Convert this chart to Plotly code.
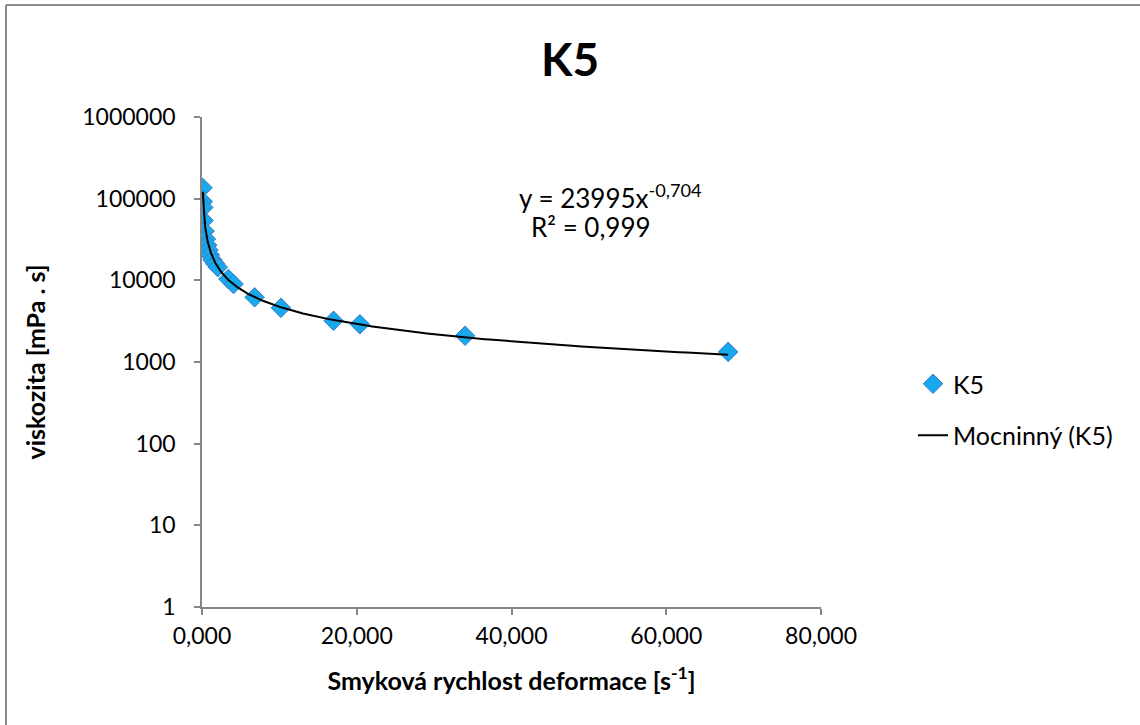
import numpy as np
import plotly.graph_objects as go

# Shear rate [1/s] and measured viscosity [mPa.s] for sample K5
shear_rate = [0.068, 0.102, 0.17, 0.204, 0.34, 0.51, 0.68, 0.85, 1.02, 1.36,
              1.7, 2.04, 3.4, 4.08, 6.8, 10.2, 17, 20.4, 34, 68]
viscosity = [136000, 92000, 78000, 54000, 40000, 32000, 27000, 23500, 20500, 17800,
             16000, 14500, 10400, 9000, 6200, 4600, 3200, 2900, 2100, 1330]

# Power-law trend  y = a * x^b
fit_a = 23995
fit_b = -0.704
fit_r2 = "0,999"

x_ticks = [0, 20, 40, 60, 80]
x_tick_text = ["0,000", "20,000", "40,000", "60,000", "80,000"]
y_ticks = [1, 10, 100, 1000, 10000, 100000, 1000000]
y_tick_text = ["1", "10", "100", "1000", "10000", "100000", "1000000"]

FONT = "Lato"
AXIS_GREY = "#868686"

trend_x = np.geomspace(0.1, max(shear_rate), 400)
trend_y = fit_a * trend_x ** fit_b

fig = go.Figure()
fig.add_trace(go.Scatter(
    x=shear_rate, y=viscosity, mode="markers", name="K5",
    legendgroup="a",
    marker=dict(symbol="diamond", size=15, color="#17A9EC",
                line=dict(color="#3F7CC4", width=1)),
))
fig.add_trace(go.Scatter(
    x=trend_x, y=trend_y, mode="lines", name="Mocninný (K5)",
    legendgroup="b",
    line=dict(color="black", width=2),
))

# plot area in pixels: x 202..821, y 117..607
L, R, T, B = 202, 821, 117, 607
W, H = 1140, 725


def px(xp):
    return (xp - L) / (R - L)


def py(yp):
    return (B - yp) / (B - T)


fig.update_layout(
    width=W, height=H,
    margin=dict(l=L, r=W - R, t=T, b=H - B),
    paper_bgcolor="white", plot_bgcolor="white",
    font=dict(family=FONT, size=23, color="black"),
    title=dict(text="<b>K5</b>", x=0.5, xref="container", xanchor="center",
               y=1 - 60 / H, yref="container", yanchor="middle",
               font=dict(family=FONT, size=46, color="black")),
    showlegend=True,
    legend=dict(x=px(913), y=py(361), xanchor="left", yanchor="top",
                font=dict(family=FONT, size=25), tracegroupgap=16,
                bgcolor="rgba(0,0,0,0)"),
    xaxis=dict(
        range=[0, 80], tickvals=x_ticks, ticktext=x_tick_text,
        showgrid=False, zeroline=False, showline=True, linecolor=AXIS_GREY,
        linewidth=1.5, ticks="outside", ticklen=6, tickcolor=AXIS_GREY,
        tickwidth=1.5, ticklabelstandoff=2,
        title=dict(text="<b>Smyková rychlost deformace [s<sup>-1</sup>]</b>",
                   font=dict(family=FONT, size=25), standoff=24),
    ),
    yaxis=dict(
        type="log", range=[0, 6], tickvals=y_ticks, ticktext=y_tick_text,
        showgrid=False, zeroline=False, showline=True, linecolor=AXIS_GREY,
        linewidth=1.5, ticks="outside", ticklen=6, tickcolor=AXIS_GREY,
        tickwidth=1.5, ticklabelstandoff=14,
        title=dict(text="<b>viskozita [mPa . s]</b>",
                   font=dict(family=FONT, size=25), standoff=30),
    ),
)

fig.add_annotation(
    x=px(610), y=py(196), xref="paper", yref="paper", showarrow=False,
    text=f"y = {fit_a}x<sup>{fit_b:.3f}</sup>".replace(".", ","),
    font=dict(family=FONT, size=26), xanchor="center", yanchor="middle",
)
fig.add_annotation(
    x=px(591), y=py(227), xref="paper", yref="paper", showarrow=False,
    text=f"R² = {fit_r2}",
    font=dict(family=FONT, size=26), xanchor="center", yanchor="middle",
)

# chart frame (left and top edges)
fig.add_shape(type="line", xref="paper", yref="paper",
              x0=px(6), x1=px(6), y0=py(5), y1=py(730),
              line=dict(color="#8C8C8C", width=2))
fig.add_shape(type="line", xref="paper", yref="paper",
              x0=px(6), x1=px(1145), y0=py(5), y1=py(5),
              line=dict(color="#8C8C8C", width=2))

fig.write_html("out.html")
